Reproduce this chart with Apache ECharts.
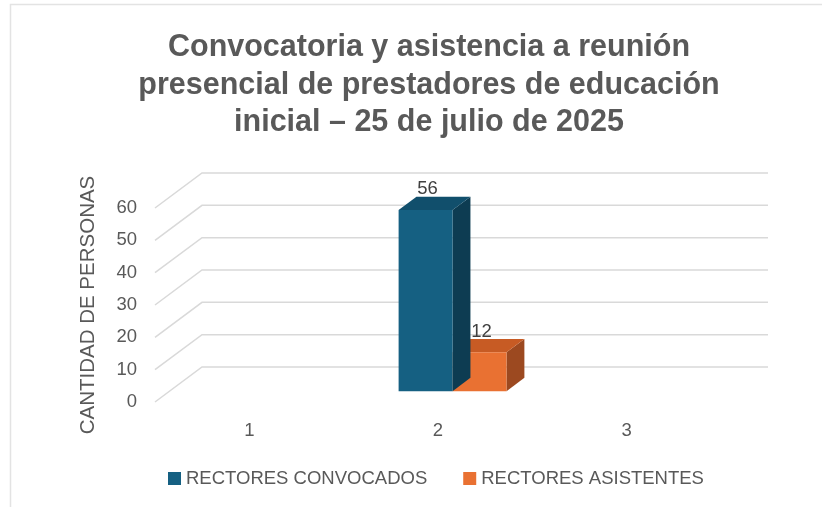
<!DOCTYPE html>
<html>
<head>
<meta charset="utf-8">
<script src="https://cdn.jsdelivr.net/npm/echarts@6/dist/echarts.min.js"></script>
<style>
  html, body { margin: 0; padding: 0; background: #fff; }
  #chart { width: 822px; height: 507px; }
</style>
</head>
<body>
<div id="chart"></div>
<script>
// datos
const categorias = ['1', '2', '3']
const convocados = [null, 56, null]
const asistentes = [null, 12, null]
const yTicks = [0, 10, 20, 30, 40, 50, 60]
const nombres = ['RECTORES CONVOCADOS', 'RECTORES ASISTENTES']

const txt = '#595959'
const font = "'Liberation Sans', Arial, sans-serif"

// desplazamiento de profundidad (pared trasera)
const DEPTH = [47, -35]

const colores = [
  { front: '#156082', top: '#114f6c', side: '#0d3c52' },
  { front: '#e97132', top: '#c75b24', side: '#9c4920' }
]

const chart = echarts.init(document.getElementById('chart'))

// paredes: lineas de division en la pared trasera + diagonales laterales
const renderWall = (params, api) => {
  const cs = params.coordSys
  const y = api.coord([0, api.value(1)])[1]
  const x0 = cs.x
  const x1 = cs.x + cs.width
  return {
    type: 'polyline',
    shape: {
      points: [
        [x0, y],
        [x0 + DEPTH[0], y + DEPTH[1]],
        [x1 + DEPTH[0], y + DEPTH[1]]
      ]
    },
    style: { stroke: '#d9d9d9', lineWidth: 1.5, fill: null },
    silent: true
  }
}

// barras 3D
const makeBar = (serieIdx) => (params, api) => {
  const v = api.value(1)
  if (v == null || isNaN(v)) return
  const base = api.coord([api.value(0), 0])
  const top = api.coord([api.value(0), v])
  const catW = api.size([1, 0])[0]
  const w = catW * 0.286
  const f0 = 0.31
  const f1 = 0.69
  const ox = DEPTH[0] * f0, oy = DEPTH[1] * f0
  const dx = DEPTH[0] * (f1 - f0), dy = DEPTH[1] * (f1 - f0)
  const left = base[0] + ox + (serieIdx === 0 ? -w : 0)
  const right = left + w
  const yb = base[1] + oy
  const yt = top[1] + oy
  const c = colores[serieIdx]
  return {
    type: 'group',
    children: [
      {
        type: 'polygon',
        shape: { points: [[right, yt], [right + dx, yt + dy], [right + dx, yb + dy], [right, yb]] },
        style: { fill: c.side }
      },
      {
        type: 'polygon',
        shape: { points: [[left, yt], [left + dx, yt + dy], [right + dx, yt + dy], [right, yt]] },
        style: { fill: c.top }
      },
      {
        type: 'rect',
        shape: { x: left, y: yt, width: w, height: yb - yt },
        style: { fill: c.front }
      },
      {
        type: 'text',
        style: {
          text: String(v),
          x: (left + right) / 2 + 2,
          y: yt + dy + 2,
          align: 'center',
          verticalAlign: 'bottom',
          fill: '#404040',
          font: '18.5px ' + font
        }
      }
    ]
  }
}

const option = {
  backgroundColor: '#fff',
  animation: false,
  title: {
    text: 'Convocatoria y asistencia a reunión\npresencial de prestadores de educación\ninicial – 25 de julio de 2025',
    left: 424,
    top: 24,
    textAlign: 'center',
    textStyle: {
      fontFamily: font,
      fontSize: 30.5,
      fontWeight: 'bold',
      color: txt,
      lineHeight: 37.5
    }
  },
  legend: {
    left: 163,
    top: 464,
    itemWidth: 13,
    itemHeight: 13,
    itemGap: 36,
    icon: 'rect',
    data: nombres,
    textStyle: { fontFamily: font, fontSize: 18.5, color: txt }
  },
  grid: {
    left: 155,
    right: 101,
    top: 208,
    bottom: 105
  },
  xAxis: {
    type: 'category',
    data: categorias,
    axisLine: { show: false },
    axisTick: { show: false },
    axisLabel: { color: txt, fontFamily: font, fontSize: 18.5, margin: 19 }
  },
  yAxis: {
    type: 'value',
    min: 0,
    max: 60,
    interval: 10,
    name: 'CANTIDAD DE PERSONAS',
    nameLocation: 'middle',
    nameRotate: 90,
    nameGap: 56,
    nameTextStyle: { color: txt, fontFamily: font, fontSize: 20.5 },
    axisLine: { show: false },
    axisTick: { show: false },
    splitLine: { show: false },
    axisLabel: { color: txt, fontFamily: font, fontSize: 18.5, margin: 18, padding: [8, 0, 0, 0] }
  },
  series: [
    {
      type: 'custom',
      name: 'paredes',
      renderItem: renderWall,
      data: yTicks.map(t => [0, t]),
      encode: { x: 0, y: 1 },
      clip: false,
      silent: true,
      z: 1
    },
    {
      type: 'custom',
      name: nombres[0],
      renderItem: makeBar(0),
      data: convocados.map((v, i) => [i, v]),
      encode: { x: 0, y: 1 },
      itemStyle: { color: colores[0].front },
      clip: false,
      z: 3
    },
    {
      type: 'custom',
      name: nombres[1],
      renderItem: makeBar(1),
      data: asistentes.map((v, i) => [i, v]),
      encode: { x: 0, y: 1 },
      itemStyle: { color: colores[1].front },
      clip: false,
      z: 2
    }
  ],
  graphic: [
    {
      type: 'polyline',
      shape: { points: [[10.5, 507], [10.5, 4.5], [822, 4.5]] },
      style: { stroke: '#e3e3e3', lineWidth: 1.5, fill: null },
      silent: true
    }
  ]
}

chart.setOption(option)
window.addEventListener('resize', () => chart.resize())
</script>
</body>
</html>
